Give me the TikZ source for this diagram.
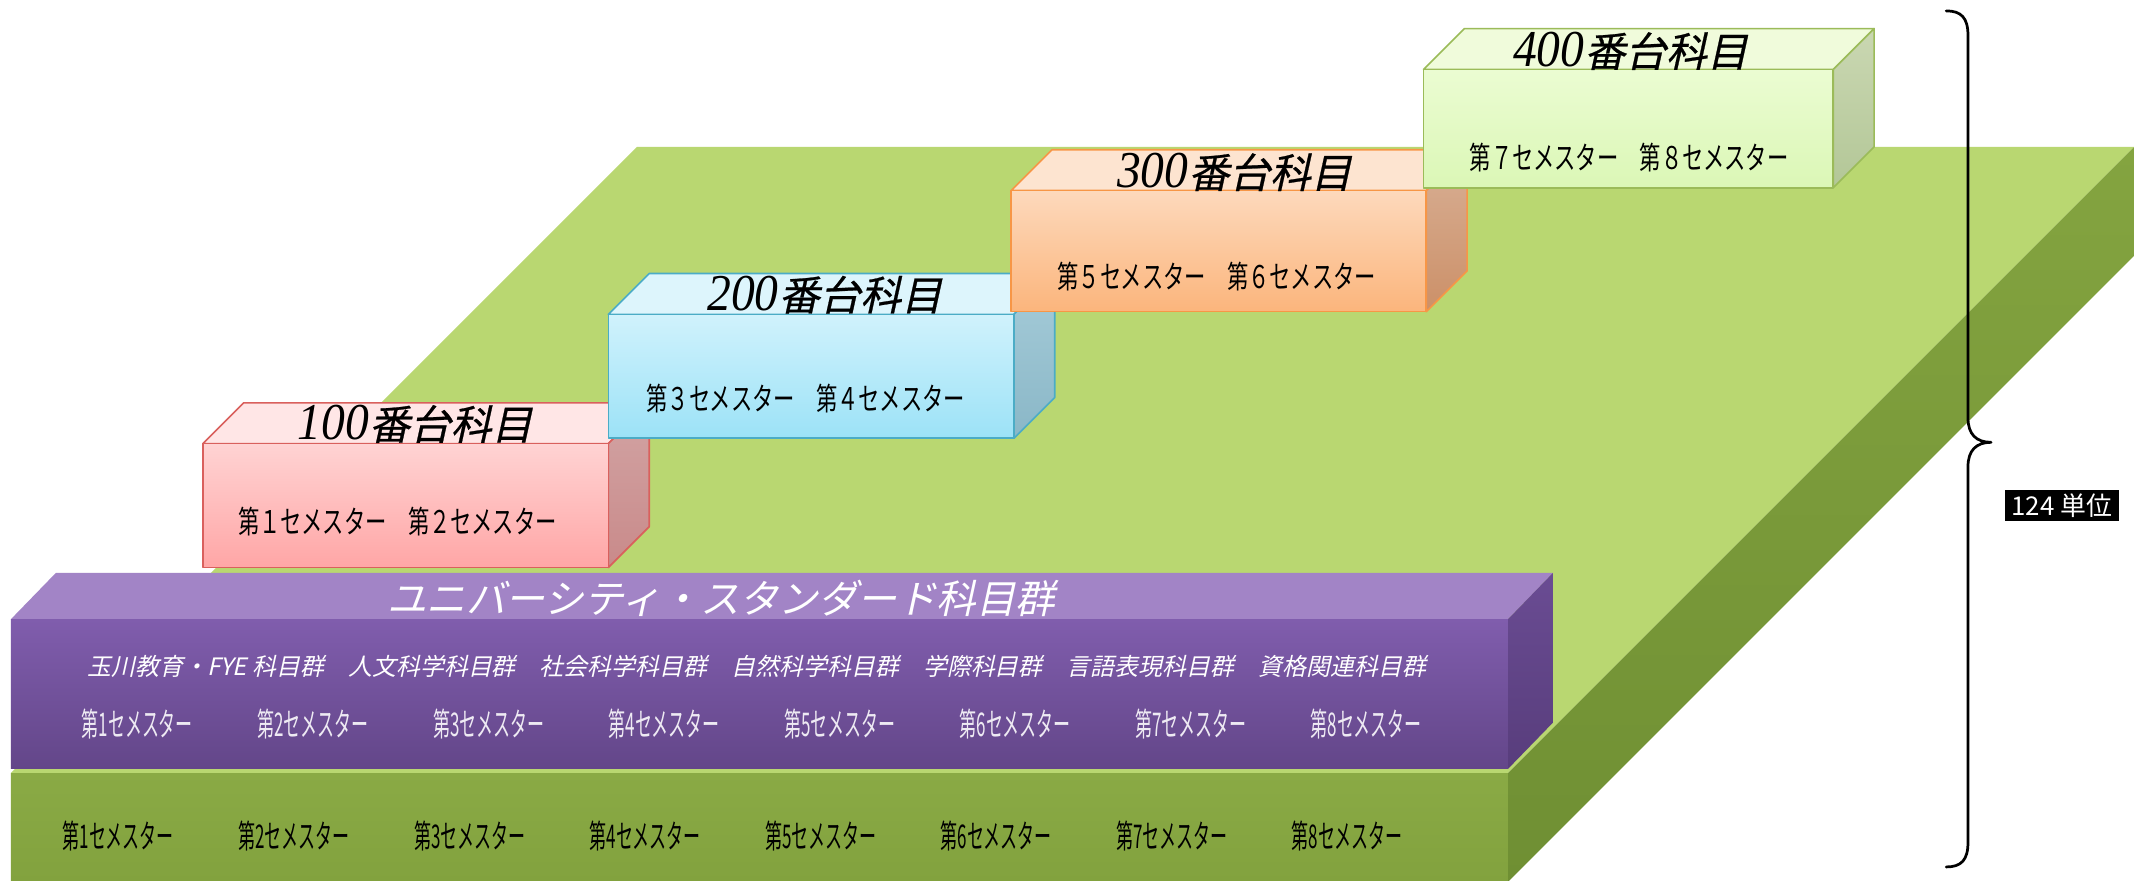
\documentclass[tikz,border=0pt]{standalone}
\usepackage{fontspec}
\setmainfont{Liberation Serif}
\newfontfamily\jp{Noto Sans CJK JP}
\newfontfamily\jpsl{Noto Sans CJK JP}[FakeSlant=0.22]
\newfontfamily\jpslb{Noto Sans CJK JP}[FakeSlant=0.22, FakeBold=0.6]
\newfontfamily\jpnar{Noto Sans CJK JP}[FakeStretch=0.52]
\newfontfamily\jpmid{Noto Sans CJK JP}[FakeStretch=0.68]
\newfontfamily\numit{Liberation Serif}[FakeStretch=0.92]

% slabs
\definecolor{gTop}{HTML}{B9D771}
\definecolor{gFT}{HTML}{8AAA45}
\definecolor{gFB}{HTML}{82A23E}
\definecolor{gST}{HTML}{84A440}
\definecolor{gSB}{HTML}{6F8F33}
\definecolor{pTop}{HTML}{A284C6}
\definecolor{pFT}{HTML}{805DAD}
\definecolor{pFB}{HTML}{634689}
\definecolor{pST}{HTML}{6A4C93}
\definecolor{pSB}{HTML}{583D7C}
% boxes
\definecolor{pkTop}{HTML}{FFE6E6}
\definecolor{pkFT}{HTML}{FFD3D3}
\definecolor{pkFB}{HTML}{FFA6A6}
\definecolor{pkST}{HTML}{D2A4A4}
\definecolor{pkSB}{HTML}{C98A8A}
\definecolor{pkLine}{HTML}{D9605D}
\definecolor{blTop}{HTML}{DDF5FC}
\definecolor{blFT}{HTML}{D0F2FC}
\definecolor{blFB}{HTML}{9CE2F7}
\definecolor{blST}{HTML}{A6CCD9}
\definecolor{blSB}{HTML}{8AB7C7}
\definecolor{blLine}{HTML}{4BACC6}
\definecolor{orTop}{HTML}{FDE4D0}
\definecolor{orFT}{HTML}{FDD9BC}
\definecolor{orFB}{HTML}{FBB57C}
\definecolor{orST}{HTML}{D8B096}
\definecolor{orSB}{HTML}{CC9068}
\definecolor{orLine}{HTML}{F79646}
\definecolor{lgTop}{HTML}{F0FBDB}
\definecolor{lgFT}{HTML}{EBFCD2}
\definecolor{lgFB}{HTML}{DBF7B6}
\definecolor{lgST}{HTML}{CAD7B2}
\definecolor{lgSB}{HTML}{B3C797}
\definecolor{lgLine}{HTML}{9BBB59}
\definecolor{offwhite}{HTML}{EEEAF3}

\tikzset{
  face/.style={line width=0.6pt, line join=round},
  semrow/.style={font=\jpnar\fontsize{12}{13}\selectfont, inner sep=0pt},
  sembox/.style={font=\jpmid\fontsize{11.5}{12}\selectfont, inner sep=0pt},
  boxtitle/.style={font=\jpslb\fontsize{15}{16}\selectfont, inner sep=0pt, anchor=base},
  usttl/.style={font=\jpsl\fontsize{14.5}{15}\selectfont, text=white, inner sep=0pt},
  cattxt/.style={font=\jpsl\fontsize{8.8}{9}\selectfont, text=white, inner sep=0pt},
  unitbox/.style={fill=black, text=white, font=\jp\fontsize{9.5}{10}\selectfont,
    minimum width=42pt, minimum height=11.5pt, inner sep=0pt},
  bracestroke/.style={line width=1pt, line cap=round, line join=round}
}

\newcommand\mycuboid[5]{%
  \path[fill=#5Top, draw=#5Line, face] (#1,#2) -- ++(30,-30) -- ++(#3,0) -- ++(-30,30) -- cycle;
  \path[top color=#5ST, bottom color=#5SB, draw=#5Line, face] ({#1+#3},#2) -- ++(30,-30) -- ++(0,#4) -- ++(-30,30) -- cycle;
  \path[top color=#5FT, bottom color=#5FB, draw=#5Line, face] (#1,#2) rectangle ++(#3,#4);
}

\begin{document}
\begin{tikzpicture}[x=0.5pt,y=-0.5pt]
\useasboundingbox (0,0) rectangle (1568,647);
\fill[white] (0,0) rectangle (1568,647);

% big green slab
\fill[gTop] (8,568) -- (468,108) -- (1568,108) -- (1108,568) -- cycle;
\path[top color=gST, bottom color=gSB] (1108,568) -- (1568,108) -- (1568,188) -- (1108,648) -- cycle;
\path[top color=gFT, bottom color=gFB] (8,568) rectangle (1108,648);

% purple slab
\fill[pTop] (8,455) -- (41,421) -- (1141,421) -- (1108,455) -- cycle;
\path[top color=pST, bottom color=pSB] (1108,455) -- (1141,421) -- (1141,531) -- (1108,565) -- cycle;
\path[top color=pFT, bottom color=pFB] (8,455) rectangle (1108,565);

% stepped boxes
\mycuboid{149}{326}{298}{91}{pk}
\mycuboid{447}{231}{298}{91}{bl}
\mycuboid{743}{140}{305}{89}{or}
\mycuboid{1046}{51}{301}{87}{lg}

% box titles
\node[boxtitle] (t100) at (305,323) {{\numit\itshape\fontsize{19}{19}\selectfont 100}番台科目};
\node[boxtitle] (t200) at (606,228) {{\numit\itshape\fontsize{19}{19}\selectfont 200}番台科目};
\node[boxtitle] (t300) at (907,138) {{\numit\itshape\fontsize{19}{19}\selectfont 300}番台科目};
\node[boxtitle] (t400) at (1198,49) {{\numit\itshape\fontsize{19}{19}\selectfont 400}番台科目};

% box semesters
\node[sembox] (s12) at (292,383) {第１セメスター　第２セメスター};
\node[sembox] (s34) at (592,293) {第３セメスター　第４セメスター};
\node[sembox] (s56) at (894,203) {第５セメスター　第６セメスター};
\node[sembox] (s78) at (1197,116) {第７セメスター　第８セメスター};

% university standard
\node[usttl] (ust) at (530,440) {ユニバーシティ・スタンダード科目群};
\node[cattxt] (cat) at (556,490) {玉川教育・FYE 科目群　人文科学科目群　社会科学科目群　自然科学科目群　学際科目群　言語表現科目群　資格関連科目群};

\foreach \i in {1,...,8} {
  \node[semrow, text=offwhite] (ps\i) at ({101+129*(\i-1)},532) {第\i セメスター};
  \node[semrow, text=black] (gs\i) at ({87+129*(\i-1)},614) {第\i セメスター};
}

% brace and label
\draw[bracestroke] (1430,8) .. controls (1441,8) and (1446,13) .. (1446,26)
  -- (1446,307) .. controls (1446,319) and (1452,325) .. (1463,325)
  .. controls (1452,325) and (1446,331) .. (1446,343)
  -- (1446,619) .. controls (1446,632) and (1441,637) .. (1430,637);
\coordinate (tip) at (1463,325);
\node[unitbox] (unit) at (1515,371.5) {124 単位};
\end{tikzpicture}
\end{document}
